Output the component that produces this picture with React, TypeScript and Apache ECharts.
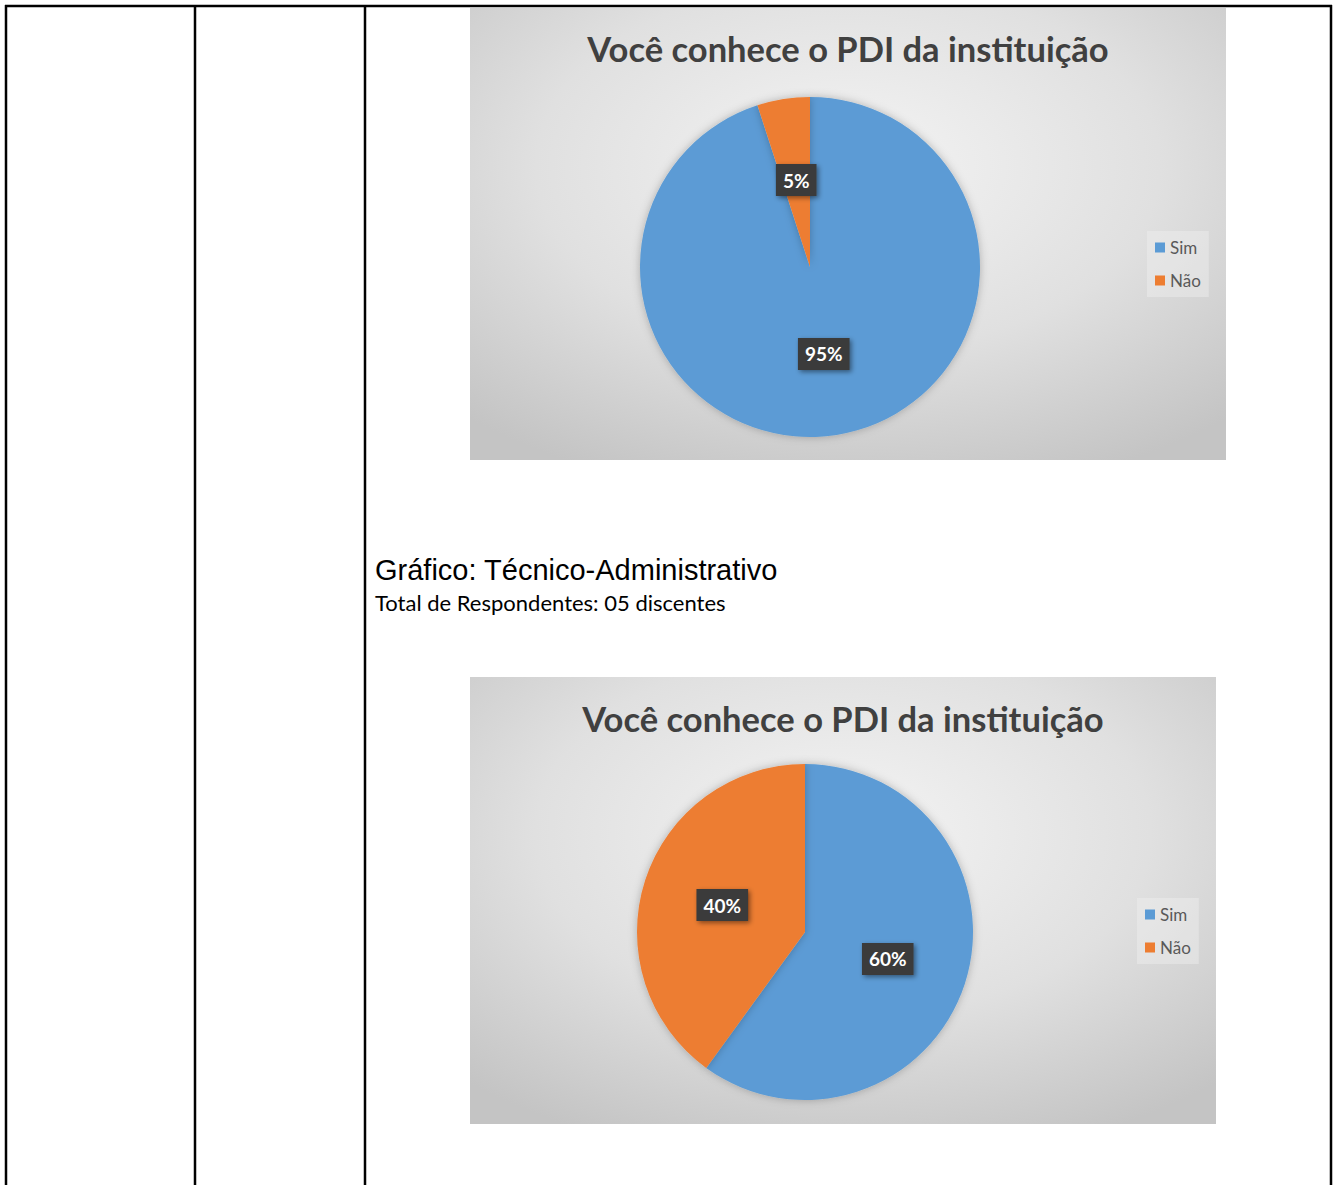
import React, { useEffect, useRef } from "react";
import * as echarts from "echarts";

const categories = ["Sim", "Não"];
const discentesValues = [95, 5];
const tecnicoValues = [60, 40];
const chartTitle = "Você conhece o PDI da instituição";
const sectionTitle = "Gráfico: Técnico-Administrativo";
const sectionSubtitle = "Total de Respondentes: 05 discentes";
const colors = ["#5B9BD5", "#ED7D31"];

const W = 1336;
const H = 1185;

function panelRect(x: number, y: number, w: number, h: number) {
  return {
    type: "rect",
    shape: { x, y, width: w, height: h },
    style: {
      fill: new echarts.graphic.RadialGradient(0.5, 0.35, 0.75, [
        { offset: 0, color: "#f4f4f4" },
        { offset: 0.55, color: "#e0e0e0" },
        { offset: 1, color: "#c4c4c4" },
      ]),
    },
    z: 0,
  };
}

function line(x1: number, y1: number, x2: number, y2: number) {
  return {
    type: "line",
    shape: { x1, y1, x2, y2 },
    style: { stroke: "#000", lineWidth: 2.5 },
    z: 5,
  };
}

const labelStyle = {
  show: true,
  position: "inside",
  formatter: "{d}%",
  color: "#fff",
  fontFamily: "Lato, 'Open Sans', sans-serif",
  fontWeight: "bold",
  fontSize: 19,
  backgroundColor: "#3b3b3b",
  padding: [7, 7, 6, 7],
  shadowColor: "rgba(0,0,0,0.45)",
  shadowBlur: 5,
  shadowOffsetX: 2,
  shadowOffsetY: 2,
};

export default function App() {
  const ref = useRef<HTMLDivElement>(null);
  useEffect(() => {
    if (!ref.current) return;
    const chart = echarts.init(ref.current, undefined, { renderer: "svg" });
    const mk = (vals: number[]) =>
      categories.map((name, i) => ({ name, value: vals[i], itemStyle: { color: colors[i] } }));
    const legendBase = {
      orient: "vertical",
      data: categories,
      icon: "rect",
      itemWidth: 10,
      itemHeight: 10,
      itemGap: 16,
      padding: [8, 8, 8, 8],
      backgroundColor: "rgba(240,240,240,0.45)",
      textStyle: { color: "#595959", fontSize: 17, fontFamily: "Lato, 'Open Sans', sans-serif" },
      selectedMode: false,
    };
    chart.setOption({
      animation: false,
      legend: [
        { ...legendBase, left: 1147, top: 231 },
        { ...legendBase, left: 1137, top: 898 },
      ],
      series: [
        {
          type: "pie",
          center: [810, 267],
          radius: 170,
          startAngle: 90,
          clockwise: true,
          data: mk(discentesValues),
          label: labelStyle,
          labelLine: { show: false },
          itemStyle: { shadowBlur: 8, shadowColor: "rgba(0,0,0,0.25)" },
          emphasis: { disabled: true },
        },
        {
          type: "pie",
          center: [805, 932],
          radius: 168,
          startAngle: 90,
          clockwise: true,
          data: mk(tecnicoValues),
          label: labelStyle,
          labelLine: { show: false },
          itemStyle: { shadowBlur: 8, shadowColor: "rgba(0,0,0,0.25)" },
          emphasis: { disabled: true },
        },
      ],
      graphic: [
        panelRect(470, 8, 756, 452),
        panelRect(470, 677, 746, 447),
        {
          type: "text",
          x: 848,
          y: 48,
          style: {
            text: chartTitle,
            fill: "#404040",
            font: "bold 34.5px Lato, 'Open Sans', sans-serif",
            textAlign: "center",
            textVerticalAlign: "middle",
          },
          z: 2,
        },
        {
          type: "text",
          x: 843,
          y: 718,
          style: {
            text: chartTitle,
            fill: "#404040",
            font: "bold 34.5px Lato, 'Open Sans', sans-serif",
            textAlign: "center",
            textVerticalAlign: "middle",
          },
          z: 2,
        },
        {
          type: "text",
          x: 375,
          y: 570,
          style: {
            text: sectionTitle,
            fill: "#000",
            font: "29px 'Liberation Sans', Arial, sans-serif",
            textAlign: "left",
            textVerticalAlign: "middle",
          },
          z: 2,
        },
        {
          type: "text",
          x: 375,
          y: 602,
          style: {
            text: sectionSubtitle,
            fill: "#000",
            font: "22px Lato, 'Open Sans', sans-serif",
            textAlign: "left",
            textVerticalAlign: "middle",
          },
          z: 2,
        },
        line(5, 6, 1332, 6),
        line(6, 5, 6, H),
        line(195, 5, 195, H),
        line(365, 5, 365, H),
        line(1331, 5, 1331, H),
      ],
    });
    return () => chart.dispose();
  }, []);
  return (
    <div
      ref={ref}
      style={{ position: "absolute", left: 0, top: 0, width: W, height: H, background: "#fff" }}
    />
  );
}
